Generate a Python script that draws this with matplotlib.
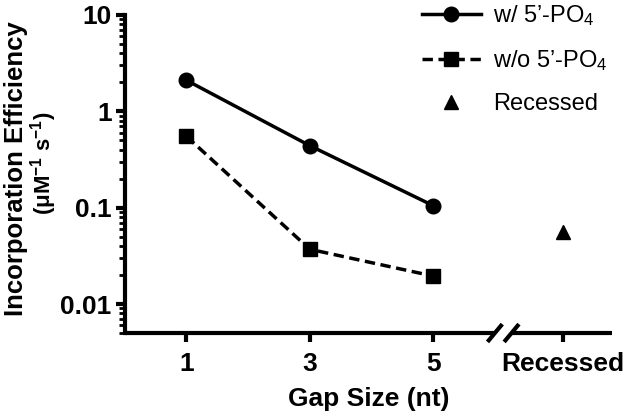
import matplotlib
matplotlib.use("Agg")
import matplotlib.pyplot as plt
from matplotlib.ticker import FixedLocator, FixedFormatter, LogLocator, NullFormatter

plt.rcParams['font.family'] = ['Liberation Sans', 'DejaVu Sans']
plt.rcParams['mathtext.fontset'] = 'custom'
plt.rcParams['mathtext.rm'] = 'Liberation Sans'
plt.rcParams['mathtext.it'] = 'Liberation Sans:italic'
plt.rcParams['mathtext.bf'] = 'Liberation Sans:bold'

# Data
gap_x = [1, 3, 5]
with_po4 = [2.1, 0.44, 0.105]
without_po4 = [0.55, 0.037, 0.0195]
recessed_x = [7.1]
recessed_y = [0.056]
xtick_pos = [1, 3, 5, 7.1]
xtick_labels = ['1', '3', '5', 'Recessed']
ytick_pos = [0.01, 0.1, 1, 10]
ytick_labels = ['0.01', '0.1', '1', '10']

fig = plt.figure(figsize=(6.33, 4.16), dpi=100)
ax = fig.add_axes([0.197, 0.1995, 0.770, 0.7645])

lw = 2.5
ax.plot(gap_x, with_po4, '-o', color='black', lw=lw, ms=10.5, label='w/ 5’-PO$_4$')
ax.plot(gap_x, without_po4, '--s', color='black', lw=lw, ms=10.5, dashes=(3, 1.6),
        label='w/o 5’-PO$_4$')
ax.plot(recessed_x, recessed_y, '^', color='black', ms=10.5, ls='none', label='Recessed')

ax.set_yscale('log')
ax.set_ylim(0.005, 10)
ax.set_xlim(0, 7.9)

ax.yaxis.set_major_locator(FixedLocator(ytick_pos))
ax.yaxis.set_major_formatter(FixedFormatter(ytick_labels))
ax.yaxis.set_minor_locator(LogLocator(base=10, subs=range(2, 10)))
ax.yaxis.set_minor_formatter(NullFormatter())
ax.xaxis.set_major_locator(FixedLocator(xtick_pos))
ax.xaxis.set_major_formatter(FixedFormatter(xtick_labels))

for s in ['top', 'right', 'bottom']:
    ax.spines[s].set_visible(False)
ax.spines['left'].set_linewidth(3)

ax.tick_params(axis='both', which='major', length=6.5, width=3, labelsize=19, pad=3)
ax.tick_params(axis='x', which='major', pad=7)
ax.tick_params(axis='y', which='minor', length=4, width=2)
for lab in ax.get_xticklabels() + ax.get_yticklabels():
    lab.set_fontweight('bold')

# broken bottom axis
tr = ax.get_xaxis_transform()
b1, b2 = 6.0, 6.27
ax.plot([0, b1], [0, 0], color='black', lw=3, transform=tr, clip_on=False, solid_capstyle='butt')
ax.plot([b2, 7.9], [0, 0], color='black', lw=3, transform=tr, clip_on=False, solid_capstyle='butt')
for b in (b1, b2):
    ax.plot([b - 0.12, b + 0.12], [-0.028, 0.028], color='black', lw=3, transform=tr,
            clip_on=False, solid_capstyle='butt')

ax.set_xlabel('Gap Size (nt)', fontsize=19, fontweight='bold', labelpad=8)
fig.text(0.025, 0.594, 'Incorporation Efficiency', rotation=90, fontsize=18.5,
         fontweight='bold', ha='center', va='center')
fig.text(0.069, 0.608, r'($\mathbf{\mu}$M$^{\mathbf{-1}}$ s$^{\mathbf{-1}}$)', rotation=90,
         fontsize=16, fontweight='bold', ha='center', va='center')

leg = ax.legend(loc='upper right', bbox_to_anchor=(1.01, 1.066), frameon=False,
                fontsize=17, handlelength=2.5, labelspacing=0.85, handletextpad=0.5,
                borderaxespad=0)

fig.savefig('out.png', dpi=100)
